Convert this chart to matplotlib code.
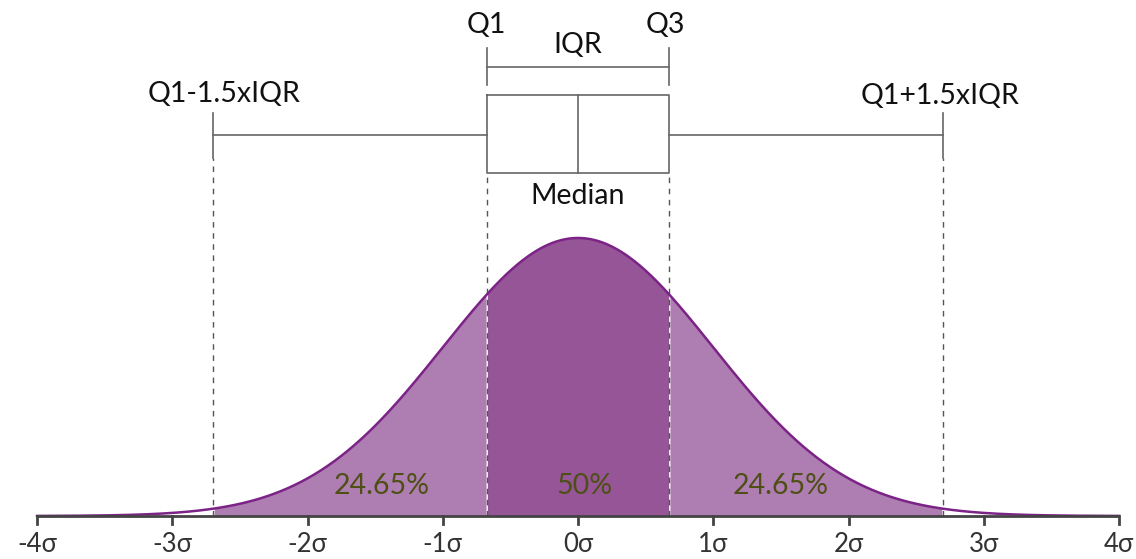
import numpy as np
import matplotlib.pyplot as plt

plt.rcParams['font.family'] = ['Lato', 'DejaVu Sans']

# quartiles of the standard normal
q1, med, q3 = -0.6745, 0.0, 0.6745
iqr = q3 - q1
lo_whisk, hi_whisk = q1 - 1.5 * iqr, q3 + 1.5 * iqr

tick_vals = [-4, -3, -2, -1, 0, 1, 2, 3, 4]
tick_labels = ["-4σ", "-3σ", "-2σ", "-1σ", "0σ", "1σ", "2σ", "3σ", "4σ"]
pct_labels = ["24.65%", "50%", "24.65%"]
pct_x = [-1.45, 0.05, 1.5]

x = np.linspace(-4, 4, 801)
pdf = np.exp(-x ** 2 / 2) / np.sqrt(2 * np.pi)

# pixel layout helpers (baseline at y=516, peak at y=238)
scale = 0.3989 / (516 - 238)
def py(p):
    return (516 - p) * scale

fig = plt.figure(figsize=(11.36, 5.59), dpi=100)
ax = fig.add_axes([0, 0, 1, 1])
ax.set_xlim((0 - 578) / 135.25, (1136 - 578) / 135.25)
ax.set_ylim(py(559), py(0))
ax.axis('off')

outer_c = "#ae7db1"
inner_c = "#955597"
line_c = "#666666"

m = (x >= lo_whisk) & (x <= q1)
ax.fill_between(x[m], 0, pdf[m], color=outer_c, lw=0)
m = (x >= q3) & (x <= hi_whisk)
ax.fill_between(x[m], 0, pdf[m], color=outer_c, lw=0)
m = (x >= q1) & (x <= q3)
ax.fill_between(x[m], 0, pdf[m], color=inner_c, lw=0)
ax.plot(x, pdf, color="#7b2386", lw=1.8, zorder=3)

# dashed guides
for xv, top in [(lo_whisk, 158), (q1, 173), (q3, 173), (hi_whisk, 158)]:
    ax.plot([xv, xv], [0, py(top)], color="#555555", lw=1, ls=(0, (4, 4)), zorder=2)

# box
ax.plot([q1, q3, q3, q1, q1], [py(95), py(95), py(173), py(173), py(95)], color=line_c, lw=1.2)
ax.plot([med, med], [py(95), py(173)], color=line_c, lw=1.2)
# whiskers and caps
ax.plot([lo_whisk, q1], [py(135), py(135)], color=line_c, lw=1.2)
ax.plot([q3, hi_whisk], [py(135), py(135)], color=line_c, lw=1.2)
for xv in [lo_whisk, hi_whisk]:
    ax.plot([xv, xv], [py(113), py(158)], color=line_c, lw=1.2)
# IQR bracket
ax.plot([q1, q3], [py(67), py(67)], color=line_c, lw=1.2)
for xv in [q1, q3]:
    ax.plot([xv, xv], [py(48), py(85)], color=line_c, lw=1.2)

# labels
tk = dict(ha='center', va='center', fontsize=20.5, color='#111111')
ax.text(q1, py(25), "Q1", **tk)
ax.text(q3 - 0.03, py(25), "Q3", **tk)
ax.text(med, py(45), "IQR", **tk)
ax.text(lo_whisk + 0.08, py(94), "Q1-1.5xIQR", **tk)
ax.text(hi_whisk - 0.02, py(96), "Q1+1.5xIQR", **tk)
ax.text(med, py(196), "Median", **tk)

for xv, lab in zip(pct_x, pct_labels):
    ax.text(xv, py(486), lab, ha='center', va='center', fontsize=20.5, color="#4d4f14")

# x axis
ax.plot([-4, 4], [0, 0], color="#444444", lw=2, solid_capstyle='butt', zorder=4)
for tv, lab in zip(tick_vals, tick_labels):
    ax.plot([tv, tv], [0, py(524)], color="#444444", lw=2, zorder=4)
    ax.text(tv, py(544), lab, ha='center', va='center', fontsize=18.5, color="#333333")

fig.savefig("out.png", dpi=100)
